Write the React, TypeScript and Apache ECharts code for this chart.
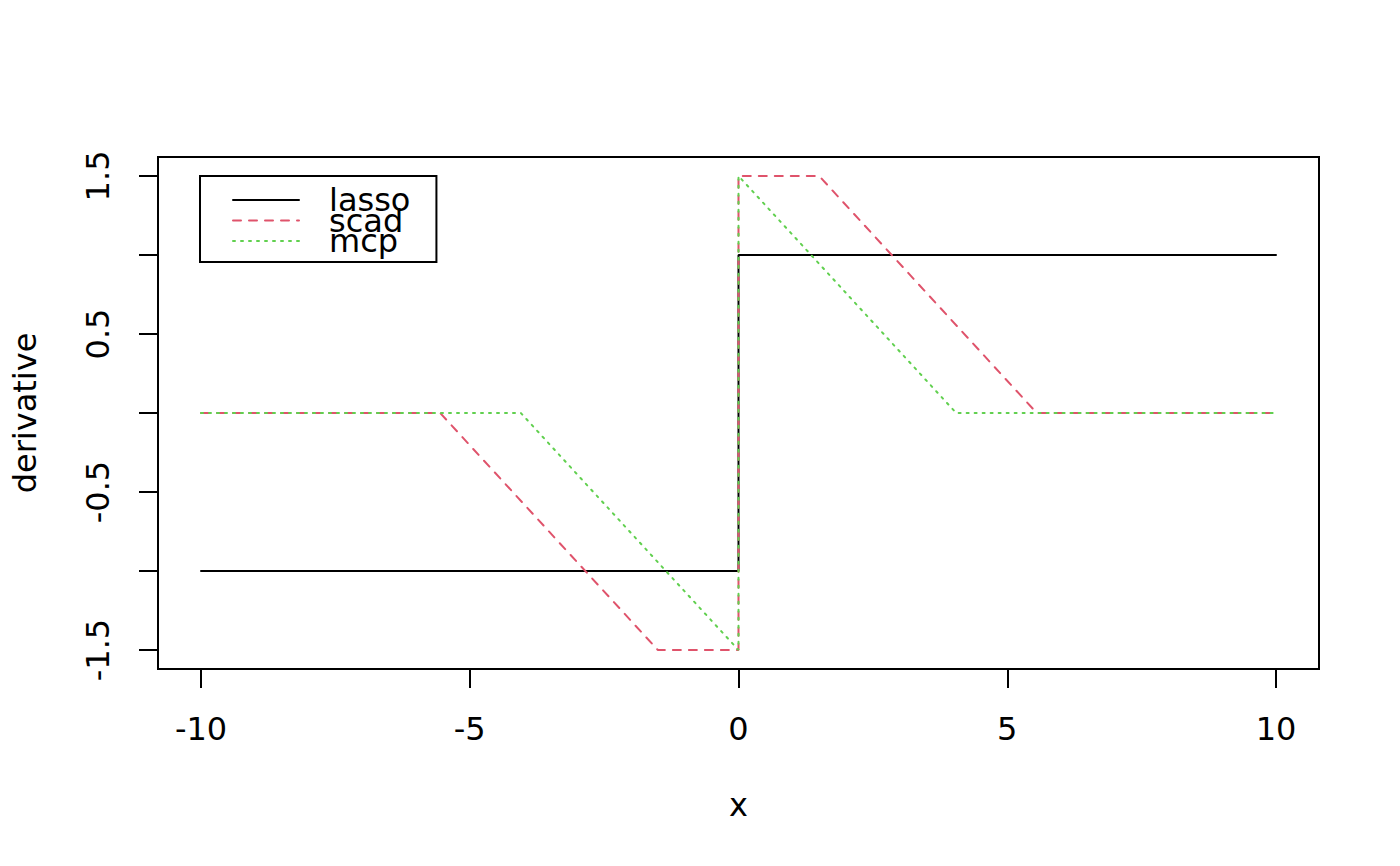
import React, { useEffect, useRef } from "react";
import * as echarts from "echarts";

const seriesNames = ["lasso", "scad", "mcp"];
const seriesColors = ["#000000", "#DF536B", "#61D04F"];
const lassoPoints: [number, number][] = [[-10, -1], [0, -1], [0, 1], [10, 1]];
const scadPoints: [number, number][] = [
  [-10, 0], [-5.55, 0], [-1.5, -1.5], [0, -1.5], [0, 1.5], [1.5, 1.5], [5.55, 0], [10, 0],
];
const mcpPoints: [number, number][] = [
  [-10, 0], [-4.05, 0], [0, -1.5], [0, 1.5], [4.05, 0], [10, 0],
];
const xTicks = [-10, -5, 0, 5, 10];
const yTicks = [-1.5, -1, -0.5, 0, 0.5, 1, 1.5];
const yLabels = [-1.5, -0.5, 0.5, 1.5];
const xName = "x";
const yName = "derivative";

const FONT = "DejaVu Sans";

export default function App() {
  const ref = useRef<HTMLDivElement>(null);
  useEffect(() => {
    document.body.style.margin = "0";
    const chart = echarts.init(ref.current!, null, { renderer: "svg" });
    const dashes: any[] = ["solid", [8, 8], [2, 6]];
    const data = [lassoPoints, scadPoints, mcpPoints];
    chart.setOption({
      animation: false,
      backgroundColor: "#ffffff",
      textStyle: { fontFamily: FONT },
      grid: {
        left: 158,
        top: 157,
        width: 1161,
        height: 512,
        show: true,
        borderColor: "#000",
        borderWidth: 2,
        backgroundColor: "transparent",
      },
      legend: {
        left: 200,
        top: 176,
        orient: "vertical",
        data: seriesNames,
        padding: [8, 26, 5, 32],
        itemGap: -11.5,
        itemWidth: 66,
        itemHeight: 21,
        borderColor: "#000",
        borderWidth: 2,
        borderRadius: 0,
        selectedMode: false,
        itemStyle: { opacity: 0 },
        textStyle: {
          fontFamily: FONT,
          fontSize: 32,
          lineHeight: 21,
          color: "#000",
          padding: [0, 0, 0, 25],
        },
      },
      xAxis: {
        type: "value",
        min: -10.8,
        max: 10.8,
        name: xName,
        nameLocation: "middle",
        nameGap: 120,
        nameTextStyle: { fontFamily: FONT, fontSize: 32, color: "#000" },
        axisLine: { show: false, onZero: false },
        splitLine: { show: false },
        axisTick: {
          show: true,
          length: 19,
          customValues: xTicks,
          lineStyle: { color: "#000", width: 2 },
        },
        axisLabel: {
          customValues: xTicks,
          fontFamily: FONT,
          fontSize: 32,
          color: "#000",
          margin: 44,
          formatter: (v: number) => String(v),
        },
      },
      yAxis: {
        type: "value",
        min: -1.62,
        max: 1.62,
        name: yName,
        nameLocation: "middle",
        nameGap: 117,
        nameRotate: 90,
        nameTextStyle: { fontFamily: FONT, fontSize: 32, color: "#000" },
        axisLine: { show: false, onZero: false },
        splitLine: { show: false },
        axisTick: {
          show: true,
          length: 19,
          customValues: yTicks,
          lineStyle: { color: "#000", width: 2 },
        },
        axisLabel: {
          customValues: yLabels,
          rotate: 90,
          fontFamily: FONT,
          fontSize: 32,
          color: "#000",
          margin: 44,
          formatter: (v: number) => String(v),
        },
      },
      series: seriesNames.map((name, i) => ({
        name,
        type: "line",
        data: data[i],
        symbol: "none",
        color: seriesColors[i],
        lineStyle: { color: seriesColors[i], width: 2, type: dashes[i], cap: "round" },
        z: 2 + i,
      })),
    });
    return () => chart.dispose();
  }, []);
  return <div ref={ref} style={{ width: 1400, height: 866 }} />;
}
